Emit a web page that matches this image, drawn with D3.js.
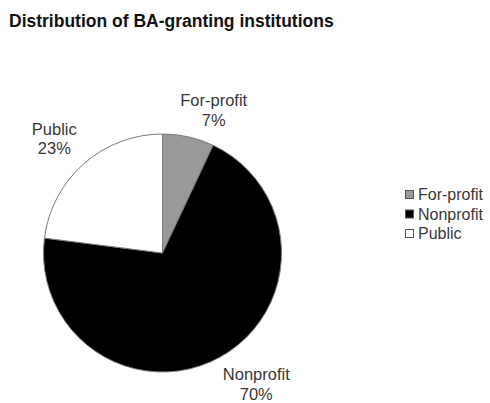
<!DOCTYPE html>
<html>
<head>
<meta charset="utf-8">
<script src="https://cdn.jsdelivr.net/npm/d3@7"></script>
<style>
  html, body { margin: 0; padding: 0; background: #fff; }
  svg { display: block; }
  text { font-family: "Liberation Sans", Arial, sans-serif; }
</style>
</head>
<body>
<svg id="chart" width="490" height="403"></svg>
<script>
const title = "Distribution of BA-granting institutions";
const categories = ["For-profit", "Nonprofit", "Public"];
const values = [7, 70, 23];
const colors = ["#999999", "#000000", "#ffffff"];

const svg = d3.select("#chart");
const W = 490, H = 403;
const cx = 162.5, cy = 253, R = 119;

svg.append("rect").attr("width", W).attr("height", H).attr("fill", "#fff");

svg.append("text")
  .attr("x", 9).attr("y", 27)
  .attr("font-size", 17.5).attr("font-weight", "bold").attr("fill", "#111")
  .text(title);

const data = categories.map((c, i) => ({ name: c, value: values[i], color: colors[i] }));
const pie = d3.pie().value(d => d.value).sort(null);
const arcs = pie(data);
const arc = d3.arc().innerRadius(0).outerRadius(R);
const labelArc = d3.arc().innerRadius(150).outerRadius(150);

const g = svg.append("g").attr("transform", `translate(${cx},${cy})`);
g.selectAll("path.slice").data(arcs).join("path")
  .attr("class", "slice")
  .attr("d", arc)
  .attr("fill", d => d.data.color)
  .attr("stroke", "#7a7a7a")
  .attr("stroke-width", 1);

// layout nudges for the outside-end label boxes
const nudge = { "For-profit": [18.5, 3.5], "Nonprofit": [21.5, 0], "Public": [-9, -1.5] };
const total = d3.sum(values);
const lab = g.selectAll("text.lbl").data(arcs).join("text")
  .attr("class", "lbl")
  .attr("text-anchor", "middle")
  .attr("font-size", 16.5)
  .attr("fill", "#383838")
  .attr("transform", d => {
    const [x, y] = labelArc.centroid(d);
    const n = nudge[d.data.name];
    return `translate(${x + n[0]},${y + n[1]})`;
  });
lab.append("tspan").attr("x", 0).attr("dy", -4).text(d => d.data.name);
lab.append("tspan").attr("x", 0).attr("dy", 19.5)
  .text(d => Math.round(d.data.value / total * 100) + "%");

// legend
const leg = svg.append("g").attr("transform", "translate(405,194.5)");
const item = leg.selectAll("g").data(data).join("g")
  .attr("transform", (d, i) => `translate(0,${i * 19.5})`);
item.append("rect")
  .attr("x", 0.5).attr("y", -4)
  .attr("width", 8).attr("height", 8)
  .attr("fill", d => d.color).attr("stroke", "#555").attr("stroke-width", 1);
item.append("text")
  .attr("x", 13).attr("y", 5.8)
  .attr("font-size", 16).attr("fill", "#383838")
  .text(d => d.name);
</script>
</body>
</html>
